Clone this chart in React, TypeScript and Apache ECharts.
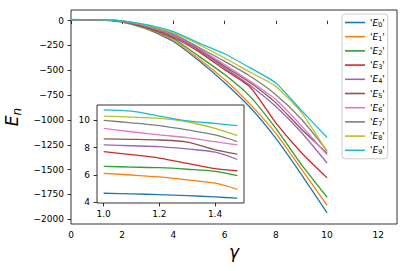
import React, { useEffect, useRef } from 'react';
import * as echarts from 'echarts';

// ---- data ----
const gamma = [0, 1, 2, 3, 4, 5, 6, 7, 8, 9, 10];
const E0 = [5.2, 4.7, -15, -88, -210, -405, -625, -875, -1185, -1550, -1936];
const E1 = [6.8, 6.1, -12, -84, -195, -386, -593, -843, -1135, -1495, -1860];
const E2 = [7.1, 6.6, -10, -78, -180, -360, -543, -765, -1085, -1450, -1778];
const E3 = [8.3, 7.7, -9, -72, -170, -315, -493, -670, -1030, -1330, -1583];
const E4 = [8.6, 8.2, -7, -68, -160, -300, -476, -653, -865, -1126, -1433];
const E5 = [9.0, 8.6, -6, -64, -150, -290, -460, -626, -828, -1093, -1335];
const E6 = [9.9, 9.4, -5, -60, -145, -280, -443, -610, -795, -1060, -1350];
const E7 = [10.4, 10.0, -4, -55, -135, -270, -410, -560, -745, -993, -1310];
const E8 = [10.6, 10.3, -3, -50, -122, -243, -376, -520, -662, -926, -1320];
const E9 = [11.2, 10.75, -2, -42, -110, -226, -333, -476, -628, -905, -1176];

const gammaInset = [1.0, 1.1, 1.2, 1.3, 1.4, 1.48];
const I0 = [4.67, 4.62, 4.57, 4.5, 4.4, 4.31];
const I1 = [6.12, 6.0, 5.86, 5.65, 5.4, 4.96];
const I2 = [6.63, 6.58, 6.53, 6.42, 6.27, 5.95];
const I3 = [7.71, 7.48, 7.23, 6.85, 6.46, 6.31];
const I4 = [8.19, 8.13, 8.07, 7.9, 7.66, 7.13];
const I5 = [8.63, 8.6, 8.55, 8.4, 7.83, 7.52];
const I6 = [9.4, 9.15, 8.92, 8.72, 8.43, 8.19];
const I7 = [9.98, 9.8, 9.59, 9.28, 8.92, 8.43];
const I8 = [10.29, 10.22, 10.12, 9.88, 9.4, 8.87];
const I9 = [10.75, 10.65, 10.29, 9.95, 9.76, 9.59];

const seriesNames = ['E0', 'E1', 'E2', 'E3', 'E4', 'E5', 'E6', 'E7', 'E8', 'E9'];
const mainValues = [E0, E1, E2, E3, E4, E5, E6, E7, E8, E9];
const insetValues = [I0, I1, I2, I3, I4, I5, I6, I7, I8, I9];

const xTicks = [0, 2, 4, 6, 8, 10, 12];
const yTicks = [-2000, -1750, -1500, -1250, -1000, -750, -500, -250, 0];
const insetXTicks = [1.0, 1.2, 1.4];
const insetYTicks = [4, 6, 8, 10];

const colors = ['#1f77b4', '#ff7f0e', '#2ca02c', '#d62728', '#9467bd', '#8c564b', '#e377c2', '#7f7f7f', '#bcbd22', '#17becf'];

const FONT = 'DejaVu Sans';
const minusFmt = (v: number) => (v < 0 ? '\u2212' + Math.abs(v) : String(v));

export default function App() {
  const ref = useRef<HTMLDivElement>(null);
  useEffect(() => {
    if (!ref.current) return;
    const chart = echarts.init(ref.current, null, { renderer: 'svg' });
    const labelStyle = { color: '#000', fontFamily: FONT, fontSize: 9 };
    const tickStyle = { show: true, length: 3.5, lineStyle: { color: '#000', width: 0.8 } };
    const series: any[] = [];
    seriesNames.forEach((n, i) => {
      series.push({
        name: n,
        type: 'line',
        xAxisIndex: 0,
        yAxisIndex: 0,
        data: gamma.map((g, k) => [g, mainValues[i][k]]),
        symbol: 'none',
        smooth: 0.2,
        lineStyle: { width: 1.3, color: colors[i] },
        itemStyle: { color: colors[i] },
        z: 3,
      });
    });
    seriesNames.forEach((n, i) => {
      series.push({
        name: n,
        type: 'line',
        xAxisIndex: 1,
        yAxisIndex: 1,
        data: gammaInset.map((g, k) => [g, insetValues[i][k]]),
        symbol: 'none',
        smooth: 0.3,
        lineStyle: { width: 1.3, color: colors[i] },
        itemStyle: { color: colors[i] },
        z: 6,
      });
    });
    chart.setOption({
      animation: false,
      backgroundColor: '#fff',
      color: colors,
      grid: [
        { left: 71, top: 10, width: 326, height: 214, show: true, borderColor: '#000', borderWidth: 0.8, backgroundColor: 'transparent', outerBoundsMode: 'none', z: 1 },
        { left: 97, top: 105, width: 147, height: 98, show: true, borderColor: '#000', borderWidth: 0.8, backgroundColor: '#fff', outerBoundsMode: 'none', z: 5 },
      ],
      legend: {
        orient: 'vertical',
        left: 342,
        top: 14,
        padding: [3, 3, 3, 3],
        itemGap: 3.2,
        itemWidth: 20,
        itemHeight: 1.6,
        icon: 'rect',
        backgroundColor: 'rgba(255,255,255,0.8)',
        borderColor: '#ccc',
        borderWidth: 1,
        borderRadius: 3,
        data: seriesNames,
        formatter: (name: string) => `'{i|E}{s|${name.slice(1)}}'`,
        textStyle: {
          color: '#000',
          fontFamily: FONT,
          fontSize: 9,
          lineHeight: 11,
          rich: {
            i: { fontFamily: FONT, fontStyle: 'italic', fontSize: 9, lineHeight: 11 },
            s: { fontFamily: FONT, fontSize: 6.5, lineHeight: 11, padding: [4, 0, 0, 0] },
          },
        },
        z: 10,
      },
      xAxis: [
        {
          type: 'value',
          gridIndex: 0,
          min: 0,
          max: 12.73,
          splitLine: { show: false },
          axisLine: { show: false },
          axisTick: { ...tickStyle, customValues: xTicks },
          axisLabel: { ...labelStyle, margin: 6, customValues: xTicks, formatter: minusFmt },
          name: 'γ',
          nameLocation: 'middle',
          nameGap: 18,
          nameTextStyle: { fontFamily: FONT, fontStyle: 'italic', fontSize: 17, color: '#000' },
        },
        {
          type: 'value',
          gridIndex: 1,
          min: 0.976,
          max: 1.504,
          splitLine: { show: false },
          axisLine: { show: false },
          axisTick: { ...tickStyle, customValues: insetXTicks },
          axisLabel: { ...labelStyle, margin: 6, customValues: insetXTicks, formatter: (v: number) => v.toFixed(1) },
        },
      ],
      yAxis: [
        {
          type: 'value',
          gridIndex: 0,
          min: -2047,
          max: 107,
          splitLine: { show: false },
          axisLine: { show: false },
          axisTick: { ...tickStyle, customValues: yTicks },
          axisLabel: { ...labelStyle, margin: 7, customValues: yTicks, formatter: minusFmt },
          name: '{i|E}{s|n}',
          nameLocation: 'middle',
          nameRotate: 90,
          nameGap: 44,
          nameTextStyle: {
            color: '#000',
            rich: {
              i: { fontFamily: FONT, fontStyle: 'italic', fontSize: 17, color: '#000' },
              s: { fontFamily: FONT, fontStyle: 'italic', fontSize: 12, color: '#000', padding: [9, 0, 0, 0] },
            },
          },
        },
        {
          type: 'value',
          gridIndex: 1,
          min: 3.96,
          max: 11.1,
          splitLine: { show: false },
          axisLine: { show: false },
          axisTick: { ...tickStyle, customValues: insetYTicks },
          axisLabel: { ...labelStyle, margin: 7, customValues: insetYTicks, formatter: minusFmt },
        },
      ],
      series,
    });
    return () => chart.dispose();
  }, []);
  return <div ref={ref} style={{ position: 'fixed', left: 0, top: 0, width: 407, height: 271, background: '#fff' }} />;
}
